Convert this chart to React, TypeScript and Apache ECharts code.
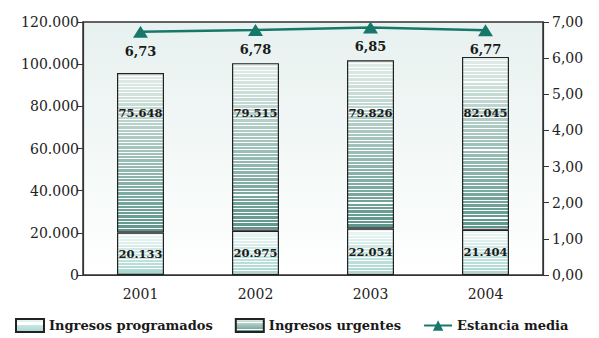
import React, { useEffect, useRef } from "react";
import * as echarts from "echarts";

const categories = ["2001", "2002", "2003", "2004"];
const programados = [20133, 20975, 22054, 21404];
const urgentes = [75648, 79515, 79826, 82045];
const estancia = [6.73, 6.78, 6.85, 6.77];
const leftMax = 120000;
const leftInterval = 20000;
const rightMax = 7;
const rightInterval = 1;
const urgentesLabelLevel = 76800;

const FONT = "DejaVu Serif";
const GRID = { left: 83, right: 56, top: 22, bottom: 63 };
const H = 338;
const PLOT_H = H - GRID.top - GRID.bottom;

function hex(c: string) {
  const n = parseInt(c.slice(1), 16);
  return [(n >> 16) & 255, (n >> 8) & 255, n & 255];
}
function lerp(a: string, b: string, t: number) {
  const x = hex(a), y = hex(b);
  const r = x.map((v, i) => Math.round(v + (y[i] - v) * t));
  return `rgb(${r[0]},${r[1]},${r[2]})`;
}
function stripes(top: string, bottom: string, n: number, lineFrac: number) {
  const stops: { offset: number; color: string }[] = [];
  for (let i = 0; i < n; i++) {
    const t0 = i / n;
    const t1 = (i + 1) / n;
    const tl = t0 + (1 - lineFrac) / n;
    const c = lerp(top, bottom, (t0 + t1) / 2);
    stops.push({ offset: t0, color: c }, { offset: tl, color: c });
    stops.push({ offset: tl, color: "rgba(255,255,255,0.85)" }, { offset: t1, color: "rgba(255,255,255,0.85)" });
  }
  return new echarts.graphic.LinearGradient(0, 0, 0, 1, stops);
}

const fmtThousands = (v: number) =>
  String(Math.round(v)).replace(/\B(?=(\d{3})+(?!\d))/g, ".");
const fmtDec = (v: number) => v.toFixed(2).replace(".", ",");

export default function App() {
  const ref = useRef<HTMLDivElement>(null);
  useEffect(() => {
    document.body.style.margin = "0";
    const chart = echarts.init(ref.current!, null, { renderer: "svg" });
    const labelStyle = {
      show: true,
      fontFamily: FONT,
      fontWeight: "bold" as const,
      fontSize: 11.5,
      color: "#1a1a1a",
    };
    chart.setOption({
      animation: false,
      textStyle: { fontFamily: FONT },
      grid: {
        ...GRID,
        show: true,
        borderColor: "#333",
        borderWidth: 1.5,
        backgroundColor: new echarts.graphic.LinearGradient(0, 0, 0, 1, [
          { offset: 0, color: "#e7f1ef" },
          { offset: 1, color: "#ffffff" },
        ]),
      },
      legend: {
        bottom: 0,
        left: 10,
        itemWidth: 28,
        itemHeight: 13,
        itemGap: 22,
        textStyle: { fontFamily: FONT, fontWeight: "bold", fontSize: 13, color: "#1a1a1a" },
        data: [
          { name: "Ingresos programados", icon: "rect" },
          { name: "Ingresos urgentes", icon: "rect" },
          { name: "Estancia media" },
        ],
      },
      xAxis: {
        type: "category",
        data: categories,
        axisLine: { lineStyle: { color: "#333", width: 1.2 } },
        axisTick: { length: 8, lineStyle: { color: "#333", width: 1.2 } },
        axisLabel: { fontFamily: FONT, fontSize: 14, color: "#222", margin: 12 },
      },
      yAxis: [
        {
          type: "value",
          min: 0,
          max: leftMax,
          interval: leftInterval,
          splitLine: { show: false },
          axisLine: { show: true, lineStyle: { color: "#333", width: 1.2 } },
          axisTick: { show: true, length: 6, lineStyle: { color: "#333" } },
          axisLabel: { fontFamily: FONT, fontSize: 14, color: "#222", margin: 4, formatter: fmtThousands },
        },
        {
          type: "value",
          min: 0,
          max: rightMax,
          interval: rightInterval,
          splitLine: { show: false },
          axisLine: { show: true, lineStyle: { color: "#333", width: 1.2 } },
          axisTick: { show: true, length: 6, lineStyle: { color: "#333" } },
          axisLabel: { fontFamily: FONT, fontSize: 14, color: "#222", margin: 9, formatter: fmtDec },
        },
      ],
      series: [
        {
          name: "Ingresos programados",
          type: "bar",
          stack: "a",
          barWidth: 47,
          data: programados,
          itemStyle: {
            color: stripes("#eef7f5", "#a6d7cf", 14, 0.3),
            borderColor: "#222",
            borderWidth: 1.2,
          },
          label: { ...labelStyle, position: "inside", formatter: (p: any) => fmtThousands(p.value) },
        },
        {
          name: "Ingresos urgentes",
          type: "bar",
          stack: "a",
          barWidth: 47,
          data: urgentes.map((v, i) => ({
            value: v,
            label: {
              position: ["50%", ((v + programados[i] - urgentesLabelLevel) / leftMax) * PLOT_H],
              align: "center",
              verticalAlign: "middle",
            },
          })),
          itemStyle: {
            color: stripes("#e3ede9", "#5c968a", 48, 0.3),
            borderColor: "#222",
            borderWidth: 1.2,
          },
          label: { ...labelStyle, formatter: (p: any) => fmtThousands(p.value) },
        },
        {
          name: "Estancia media",
          type: "line",
          yAxisIndex: 1,
          data: estancia,
          symbol: "triangle",
          symbolSize: [15, 12],
          color: "#17786a",
          lineStyle: { color: "#17786a", width: 2.5 },
          itemStyle: { color: "#17786a" },
          label: {
            ...labelStyle,
            fontSize: 13,
            position: "bottom",
            distance: 7,
            formatter: (p: any) => fmtDec(p.value),
          },
        },
      ],
    });
    return () => chart.dispose();
  }, []);
  return <div ref={ref} style={{ width: 599, height: 338 }} />;
}
